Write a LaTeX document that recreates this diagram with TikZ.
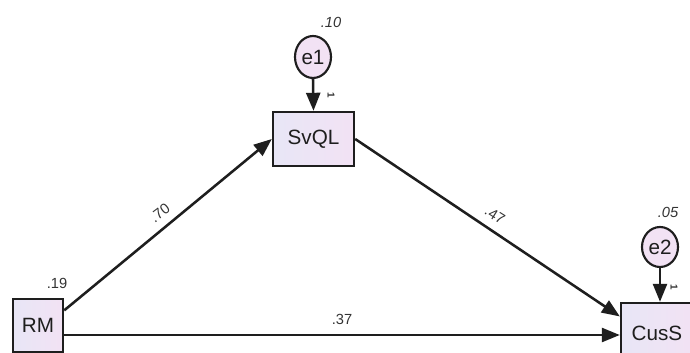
\documentclass[tikz,border=0pt]{standalone}
\usepackage{fontspec}
\setmainfont{Liberation Sans}
\usetikzlibrary{arrows.meta,shapes.geometric}
\definecolor{boxl}{HTML}{E8E6F6}
\definecolor{boxr}{HTML}{F2E2F4}
\definecolor{ink}{HTML}{1E1E1E}
\definecolor{valc}{HTML}{333333}
\tikzset{
  obs/.style={draw=ink, line width=1.8pt, left color=boxl, right color=boxr, rectangle, inner sep=0pt,
    font=\fontsize{15.5}{18}\selectfont, text=ink},
  err/.style={draw=ink, line width=1.6pt, fill=boxr, ellipse, inner sep=0pt,
    font=\fontsize{15.5}{18}\selectfont, text=ink},
  path/.style={draw=ink, line width=1.9pt, -{Triangle[length=13.5pt,width=10.5pt]}},
  val/.style={font=\fontsize{11}{13}\selectfont, text=valc, inner sep=0pt},
  one/.style={font=\fontsize{7.5}{9}\selectfont\bfseries, text=valc, inner sep=0pt, rotate=-90},
}
\begin{document}
\begin{tikzpicture}[x=0.75pt,y=-0.75pt]
\clip (0,0) rectangle (690,353);
\useasboundingbox (0,0) rectangle (690,353);
\fill[white] (0,0) rectangle (690,353);
% nodes
\node[obs, minimum width=81*0.75pt, minimum height=54*0.75pt] (svql) at (313.5,139) {SvQL};
\node[obs, minimum width=50*0.75pt, minimum height=53*0.75pt] (rm) at (38,325.5) {RM};
\node[obs, minimum width=72*0.75pt, minimum height=60*0.75pt] (cuss) at (657,333) {CusS};
\node[err, minimum width=36*0.75pt, minimum height=42*0.75pt] (e1) at (313,57) {e1};
\node[err, minimum width=36*0.75pt, minimum height=40*0.75pt] (e2) at (660,247) {e2};
% connectors
\draw[path] (e1.south) -- (svql.north);
\draw[path] (e2.south) -- (e2.south |- cuss.north);
\draw[path] (rm.30) -- (svql.west);
\draw[path] (svql.east) -- (cuss.156);
\draw[path] (rm.east) ++(0,9.5) coordinate (rmout) -- (rmout -| cuss.west);
% labels
\node[val, rotate=37] (l70) at (160,213) {.70};
\node[val, rotate=-32] (l47) at (495,215) {.47};
\node[val] (l37) at (342,319) {.37};
\node[val] (l19) at (57,283) {.19};
\node[val, font=\fontsize{11}{13}\selectfont\itshape] (l10) at (331,22) {.10};
\node[val, font=\fontsize{11}{13}\selectfont\itshape] (l05) at (668,212) {.05};
\node[one] (o1) at (331,95) {1};
\node[one] (o2) at (674,287) {1};
\end{tikzpicture}
\end{document}
